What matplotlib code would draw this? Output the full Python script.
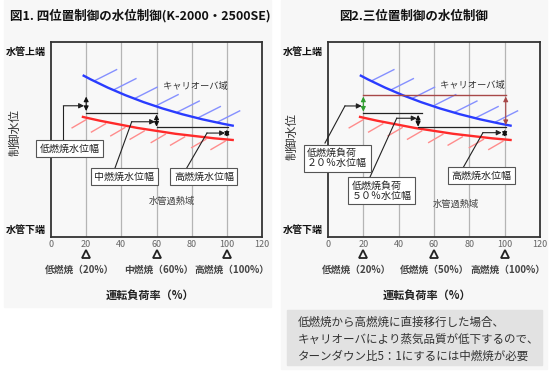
import matplotlib
matplotlib.use('Agg')
import matplotlib.pyplot as plt
from matplotlib.path import Path
from matplotlib.patches import PathPatch, Rectangle
import numpy as np

plt.rcParams['font.family'] = ['Noto Sans CJK JP', 'DejaVu Sans']

W, H = 550, 373

#axis values
load_ticks = [0, 20, 40, 60, 80, 100, 120]
grid_x = [20, 40, 60, 80, 100]
marker_x = [20, 60, 100]
level_ticks = [4, 95.5]
level_labels = ['水管下端', '水管上端']

#boundary curves (start, control, end)
blue_x = [18, 55, 104]
blue_y = [83, 65, 57]
red_x = [17.5, 59, 104]
red_y = [61.7, 53, 49.7]
blue_hatch_x = [25, 36, 48, 60, 72, 84, 95]
red_hatch_x = [20, 31, 42, 53, 65, 76, 88, 99]

#fig1 steps
left_arrow_x = [20, 60, 100]
left_arrow_top = [72, 62.8, 55]
left_arrow_bot = [64.6, 56.6, 51.4]
left_line_x0 = [20, 60]
left_line_x1 = [60, 100.5]
left_line_y = [63.4, 56.6]
left_load_labels = ['低燃焼（20%）', '中燃焼（60%）', '高燃焼（100%）']

#fig2 steps
right_arrow_x = [51, 100]
right_arrow_top = [62.6, 55]
right_arrow_bot = [56.6, 51.4]
right_line_x0 = [20, 51]
right_line_x1 = [53, 100.5]
right_line_y = [63.4, 56.6]
green_x, green_top, green_bot = 20, 72, 64.3
brown_y, brown_x0, brown_x1, brown_bot = 72.8, 20, 100.6, 57.4
right_load_labels = ['低燃焼（20%）', '低燃焼（50%）', '高燃焼（100%）']

note_lines = ['低燃焼から高燃焼に直接移行した場合、',
              'キャリオーバにより蒸気品質が低下するので、',
              'ターンダウン比5：1にするには中燃焼が必要']


def bez(xs, ys):
    t = np.linspace(0, 1, 200)
    bx = (1 - t) ** 2 * xs[0] + 2 * (1 - t) * t * xs[1] + t ** 2 * xs[2]
    by = (1 - t) ** 2 * ys[0] + 2 * (1 - t) * t * ys[1] + t ** 2 * ys[2]
    return bx, by


def curve(ax, xs, ys, color):
    path = Path(list(zip(xs, ys)), [Path.MOVETO, Path.CURVE3, Path.CURVE3])
    ax.add_patch(PathPatch(path, fill=False, edgecolor=color, lw=1.7, zorder=4))


def darrow(ax, x, y0, y1, color='#111'):
    ax.annotate('', xy=(x, y1), xytext=(x, y0),
                arrowprops=dict(arrowstyle='<|-|>,head_length=0.28,head_width=0.14',
                                color=color, lw=0.8, shrinkA=0, shrinkB=0), zorder=5)


def callout(ax, text, cx, cy, pts, ls=1.2):
    px_ = [p[0] for p in pts]
    py_ = [p[1] for p in pts]
    ax.plot(px_[:-1], py_[:-1], color='#222', lw=0.8, clip_on=False, zorder=5)
    ax.annotate('', xy=pts[-1], xytext=pts[-2],
                arrowprops=dict(arrowstyle='-|>,head_length=0.3,head_width=0.15',
                                color='#222', lw=0.8, shrinkA=0, shrinkB=0), zorder=5)
    ax.text(cx, cy, text, ha='center', va='center', fontsize=7.2, color='#222',
            linespacing=ls, multialignment='left', zorder=6,
            bbox=dict(boxstyle='square,pad=0.35', fc='white', ec='#555', lw=0.8))


def base(ax, load_labels, label_x, xlabel_x):
    ax.set_facecolor('#f8f8f8')
    ax.set_xlim(0, 120)
    ax.set_ylim(0, 100)
    ax.set_xticks(load_ticks)
    ax.set_xticklabels([str(v) for v in load_ticks], fontsize=6.5, color='#666')
    ax.tick_params(axis='x', length=0, pad=2)
    ax.set_yticks(level_ticks)
    ax.set_yticklabels(level_labels, fontsize=7.2, fontweight='bold', color='#111')
    ax.tick_params(axis='y', length=0, pad=4)
    for s in ax.spines.values():
        s.set_color('#333')
        s.set_linewidth(1.3)
    for gx in grid_x:
        ax.axvline(gx, color='#b5b5b5', lw=0.9, zorder=1)
    curve(ax, blue_x, blue_y, '#2a3cff')
    curve(ax, red_x, red_y, '#ff2a2a')
    bx, by = bez(blue_x, blue_y)
    for hx in blue_hatch_x:
        hy = np.interp(hx, bx, by) + 0.5
        ax.plot([hx, hx + 12.3], [hy, hy + 5.6], color='#8590ff', lw=1.0, zorder=3)
    rx, ry = bez(red_x, red_y)
    for hx in red_hatch_x:
        hy = np.interp(hx, rx, ry) - 1.0
        ax.plot([hx, hx - 8], [hy, hy - 4.2], color='#ff8c8c', lw=1.0, zorder=3)
    tr = ax.get_xaxis_transform()
    ax.plot(marker_x, [-0.085] * len(marker_x), linestyle='none', marker='^', ms=6,
            mfc='none', mec='#222', mew=1.3, transform=tr, clip_on=False)
    for lx, lab in zip(label_x, load_labels):
        ax.text(lx, -0.169, lab, transform=tr, ha='center', va='center',
                fontsize=7, fontweight='bold', color='#444')
    ax.text(xlabel_x, -0.297, '運転負荷率（%）', transform=ax.transAxes,
            ha='center', va='center', fontsize=8, fontweight='bold', color='#222')


fig = plt.figure(figsize=(5.5, 3.73), dpi=100)
fig.patches.append(Rectangle((4 / W, 1 - 307 / H), 267 / W, 307 / H,
                             transform=fig.transFigure, color='#f7f7f7', zorder=-2))
fig.patches.append(Rectangle((281 / W, 1 - 369 / H), 266 / W, 369 / H,
                             transform=fig.transFigure, color='#f7f7f7', zorder=-2))
fig.patches.append(Rectangle((287 / W, 1 - 365 / H), 255 / W, 55 / H,
                             transform=fig.transFigure, color='#e2e2e2', zorder=-1))

ax1 = fig.add_axes([51 / W, 1 - 237 / H, 211 / W, 195 / H])
ax2 = fig.add_axes([328 / W, 1 - 237 / H, 212 / W, 195 / H])

#fig1
base(ax1, left_load_labels, [16.5, 61.4, 103], 0.47)
for x, y0, y1 in zip(left_arrow_x, left_arrow_top, left_arrow_bot):
    darrow(ax1, x, y0, y1)
for x0, x1, y in zip(left_line_x0, left_line_x1, left_line_y):
    ax1.plot([x0, x1], [y, y], color='#222', lw=0.9, zorder=5)
ax1.text(81.9, 77.4, 'キャリオーバ域', ha='center', va='center', fontsize=6.7, color='#333')
ax1.text(68.7, 18.1, '水管過熱域', ha='center', va='center', fontsize=6.7, color='#444')
callout(ax1, '低燃焼水位幅', 10.8, 45.4, [(7.0, 49.7), (7.0, 67.3), (18.8, 67.3)])
callout(ax1, '中燃焼水位幅', 41.8, 31, [(36.4, 35.4), (45.9, 59.1), (59.2, 59.1)])
callout(ax1, '高燃焼水位幅', 87, 31, [(77.2, 35.4), (88.7, 53.3), (99, 53.3)])

#fig2
base(ax2, right_load_labels, [16.2, 60.6, 101.9], 0.466)
ax2.plot([brown_x0, brown_x1], [brown_y, brown_y], color='#a84848', lw=1.0, zorder=5)
darrow(ax2, brown_x1, brown_y - 0.8, brown_bot, color='#a84848')
darrow(ax2, green_x, green_top, green_bot, color='#2e9e2e')
for x, y0, y1 in zip(right_arrow_x, right_arrow_top, right_arrow_bot):
    darrow(ax2, x, y0, y1)
for x0, x1, y in zip(right_line_x0, right_line_x1, right_line_y):
    ax2.plot([x0, x1], [y, y], color='#222', lw=0.9, zorder=5)
ax2.text(81.5, 77.9, 'キャリオーバ域', ha='center', va='center', fontsize=6.7, color='#333')
ax2.text(72.4, 16.9, '水管過熱域', ha='center', va='center', fontsize=6.7, color='#444')
callout(ax2, '低燃焼負荷\n２０％水位幅', 5.1, 40.5, [(-1.7, 48.2), (9.6, 67.2), (19.1, 67.2)], ls=1.0)
callout(ax2, '低燃焼負荷\n５０％水位幅', 30.3, 23.6, [(23.8, 30.8), (38.9, 60.9), (50.2, 60.9)], ls=1.0)
callout(ax2, '高燃焼水位幅', 87, 31.5, [(76.4, 35.4), (87.7, 53.5), (98.3, 53.5)])

#titles and side labels
fig.text(10 / W, 1 - 16 / H, '図1. 四位置制御の水位制御(K-2000・2500SE)', ha='left', va='center',
         fontsize=9, fontweight='bold', color='#111')
fig.text(414 / W, 1 - 16 / H, '図2.三位置制御の水位制御', ha='center', va='center',
         fontsize=9, fontweight='bold', color='#111')
fig.text(15 / W, 1 - 133 / H, '制御水位', rotation=90, ha='center', va='center',
         fontsize=8.5, color='#333')
fig.text(292 / W, 1 - 137 / H, '制御水位', rotation=90, ha='center', va='center',
         fontsize=8.5, color='#333')
fig.text(298 / W, 1 - 339 / H, '\n'.join(note_lines), ha='left', va='center',
         fontsize=8.3, color='#333', linespacing=1.4)

fig.savefig('out.png', dpi=100)
